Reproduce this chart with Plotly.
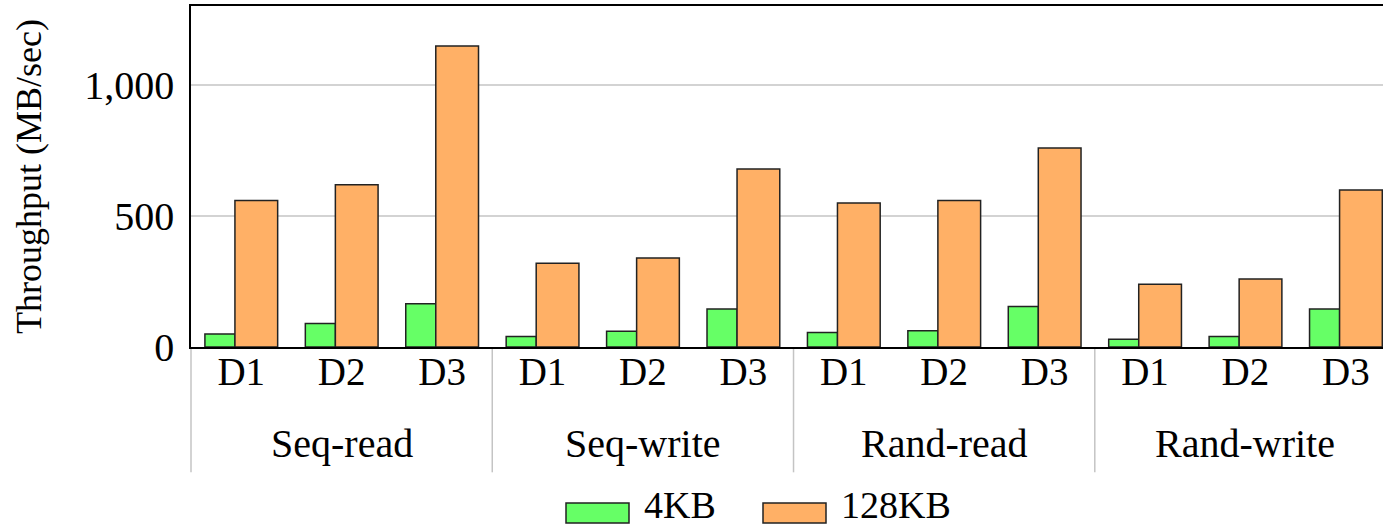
import plotly.graph_objects as go

groups = ["Seq-read", "Seq-write", "Rand-read", "Rand-write"]
devices = ["D1", "D2", "D3"]
kb4 = [50, 90, 165, 40, 60, 145, 55, 62, 155, 30, 40, 145]
kb128 = [560, 620, 1150, 320, 340, 680, 550, 560, 760, 240, 260, 600]
y_ticks = [0, 500, 1000]
series_names = ["4KB", "128KB"]

GREEN = "#66ff66"
ORANGE = "#ffb066"
EDGE = "#222222"
FONT = "Liberation Serif"

nd = len(devices)
xs = [g * nd + d for g in range(len(groups)) for d in range(nd)]
labels = [devices[d] for g in range(len(groups)) for d in range(nd)]
xr = [-0.5, 11.37]

fig = go.Figure()
fig.add_trace(go.Bar(x=xs, y=kb4, name=series_names[0], width=0.30, offset=-0.3615,
                     showlegend=False,
                     marker=dict(color=GREEN, line=dict(color=EDGE, width=1.5))))
fig.add_trace(go.Bar(x=xs, y=kb128, name=series_names[1], width=0.4255, offset=-0.0625,
                     showlegend=False,
                     marker=dict(color=ORANGE, line=dict(color=EDGE, width=1.5))))

shapes = []
for g in range(len(groups) + 1):
    pos = g * nd - 0.5
    px = (pos - xr[0]) / (xr[1] - xr[0])
    if px > 1:
        continue
    shapes.append(dict(type="line", xref="paper", yref="paper", x0=px, x1=px, y0=0, y1=-0.3675,
                       line=dict(color="#c4c4c4", width=1.5), layer="below"))

annotations = []
for g, name in enumerate(groups):
    annotations.append(dict(x=g * nd + (nd - 1) / 2, xref="x", y=0, yref="paper", yshift=-96,
                            text=name, showarrow=False, yanchor="middle", xanchor="center",
                            font=dict(family=FONT, size=40, color="black")))

# legend drawn as swatches + text (paper coordinates)
PW, PH = 1192.0, 341.0
def px2x(p):
    return (p - 191) / PW
def py2y(p):
    return (347 - p) / PH

legend_items = [(series_names[0], GREEN, 566), (series_names[1], ORANGE, 763)]
for name, col, x0 in legend_items:
    shapes.append(dict(type="rect", xref="paper", yref="paper",
                       x0=px2x(x0), x1=px2x(x0 + 63), y0=py2y(503), y1=py2y(523),
                       fillcolor=col, line=dict(color=EDGE, width=1.5)))
    annotations.append(dict(x=px2x(x0 + 76), xref="paper", y=py2y(528), yref="paper",
                            text=name, showarrow=False, xanchor="left", yanchor="bottom",
                            font=dict(family=FONT, size=38, color="black")))

fig.update_layout(
    width=1383, height=529, autosize=False,
    margin=dict(l=191, r=0, t=6, b=182),
    paper_bgcolor="white", plot_bgcolor="white",
    barmode="overlay", showlegend=False,
    shapes=shapes, annotations=annotations,
    font=dict(family=FONT, color="black"),
    xaxis=dict(range=xr, tickvals=xs, ticktext=labels, showgrid=False, zeroline=False,
               showline=True, mirror=True, linecolor="black", linewidth=1.5, ticks="",
               ticklabelstandoff=-11, automargin=False, tickfont=dict(family=FONT, size=39)),
    yaxis=dict(range=[0, 1303], tickvals=y_ticks, tickformat=",", showgrid=True,
               gridcolor="#d3d3d3", gridwidth=1.5, zeroline=False, showline=True,
               linecolor="black", linewidth=1.5, ticks="", ticklabelstandoff=7,
               automargin=False, tickfont=dict(family=FONT, size=40),
               title=dict(text="Throughput (MB/sec)", font=dict(family=FONT, size=36), standoff=32)),
)

fig.write_html("out.html", config={"displayModeBar": False},
               post_script="document.body.style.margin='0';document.body.style.overflow='hidden';")
